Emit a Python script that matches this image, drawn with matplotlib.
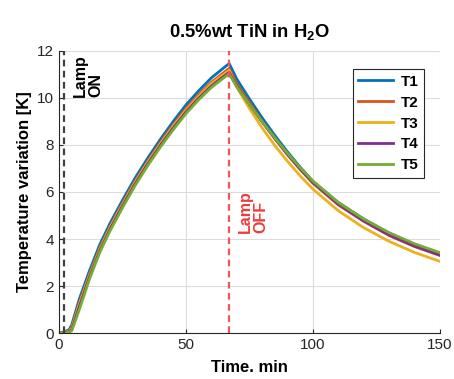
import matplotlib
matplotlib.use("Agg")
import matplotlib.pyplot as plt

plt.rcParams['font.family'] = ['Liberation Sans', 'DejaVu Sans']
plt.rcParams['mathtext.fontset'] = 'custom'
plt.rcParams['mathtext.rm'] = 'Liberation Sans'
plt.rcParams['mathtext.bf'] = 'Liberation Sans:bold'

# time in minutes
t = [0, 2, 4, 5, 8, 12, 16, 20, 25, 30, 35, 40, 45, 50, 55, 60, 64, 67,
     70, 75, 80, 85, 90, 95, 100, 110, 120, 130, 140, 150]

T1 = [0, 0.05, 0.15, 0.35, 1.45, 2.65, 3.75, 4.65, 5.65, 6.6, 7.45, 8.25, 9.0, 9.7, 10.3, 10.85, 11.2, 11.46,
      10.8, 9.95, 9.15, 8.4, 7.7, 7.05, 6.45, 5.55, 4.85, 4.25, 3.75, 3.35]
T2 = [0, 0.03, 0.1, 0.25, 1.3, 2.5, 3.6, 4.52, 5.52, 6.47, 7.32, 8.12, 8.86, 9.55, 10.13, 10.66, 11.0, 11.25,
      10.6, 9.8, 9.0, 8.27, 7.58, 6.95, 6.37, 5.45, 4.75, 4.15, 3.68, 3.3]
T3 = [0, 0.02, 0.08, 0.2, 1.22, 2.45, 3.55, 4.47, 5.47, 6.42, 7.27, 8.06, 8.8, 9.48, 10.06, 10.6, 10.93, 11.17,
      10.45, 9.55, 8.72, 7.97, 7.3, 6.68, 6.12, 5.2, 4.48, 3.9, 3.43, 3.05]
T4 = [0, 0.02, 0.06, 0.15, 1.12, 2.38, 3.48, 4.4, 5.4, 6.35, 7.2, 7.99, 8.72, 9.4, 9.98, 10.5, 10.84, 11.08,
      10.5, 9.72, 8.98, 8.27, 7.6, 6.98, 6.4, 5.48, 4.77, 4.17, 3.7, 3.32]
T5 = [0, 0.01, 0.04, 0.1, 1.0, 2.3, 3.42, 4.33, 5.33, 6.28, 7.13, 7.92, 8.65, 9.33, 9.92, 10.44, 10.78, 11.02,
      10.47, 9.72, 8.99, 8.3, 7.64, 7.03, 6.46, 5.55, 4.85, 4.27, 3.8, 3.42]

series = [('T1', T1, '#0072BD'), ('T2', T2, '#D95319'), ('T3', T3, '#EDB120'),
          ('T4', T4, '#7E2F8E'), ('T5', T5, '#77AC30')]

lamp_on = 2.1
lamp_off = 67.0

fig = plt.figure(figsize=(4.54, 3.79), dpi=100)
ax = fig.add_axes([0.130, 0.121, 0.839, 0.745])

for name, vals, col in series:
    ax.plot(t, vals, color=col, lw=2, label=name)

ax.axvline(lamp_on, color='#404040', ls=(0, (3, 2)), lw=1.6)
ax.axvline(lamp_off, color='#f2545c', ls=(0, (3, 2)), lw=1.6)
ax.text(5.4, 10.05, 'Lamp\nON', rotation=90, fontsize=11.5, fontweight='bold',
        ha='left', va='bottom', multialignment='left', color='black', linespacing=1.05)
ax.text(70.4, 4.25, 'Lamp\nOFF', rotation=90, fontsize=11.5, fontweight='bold',
        ha='left', va='bottom', multialignment='left', color='#ee3b3b', linespacing=1.05)

ax.set_xlim(0, 150)
ax.set_ylim(0, 12)
ax.set_xticks([0, 50, 100, 150])
ax.set_yticks([0, 2, 4, 6, 8, 10, 12])
ax.tick_params(direction='in', labelsize=11, colors='#262626', length=3)
ax.grid(True, color='#dcdcdc', lw=0.8)
ax.set_axisbelow(True)
for s in ['top', 'right']:
    ax.spines[s].set_visible(False)
for s in ['left', 'bottom']:
    ax.spines[s].set_color('#262626')

ax.set_xlabel('Time. min', fontsize=12, fontweight='bold', labelpad=6)
ax.set_ylabel('Temperature variation [K]', fontsize=12, fontweight='bold', labelpad=4)
ax.set_title(r'0.5%wt TiN in H$_\mathbf{2}$O', fontsize=13.3, fontweight='bold', pad=10)

leg = ax.legend(loc='upper right', bbox_to_anchor=(0.958, 0.934), borderaxespad=0,
                fancybox=False, edgecolor='#262626', framealpha=1, handlelength=2.3,
                handletextpad=0.5, prop={'weight': 'bold', 'size': 11}, labelspacing=0.45,
                borderpad=0.35)
leg.get_frame().set_linewidth(0.8)

fig.savefig('out.png', dpi=100)
